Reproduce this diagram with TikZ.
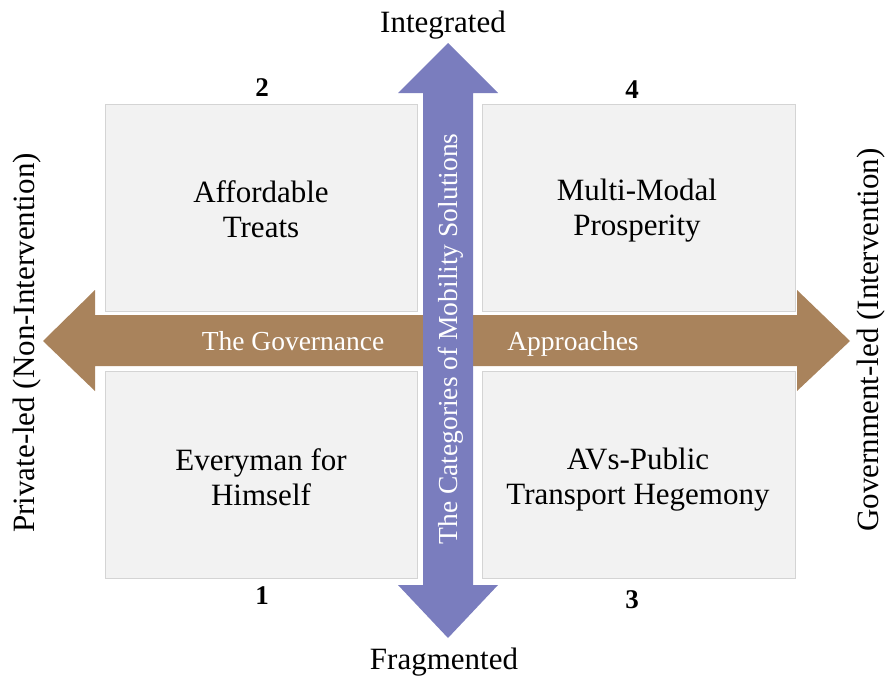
\documentclass[tikz,border=0pt]{standalone}
\usepackage{fontspec}
\setmainfont{Liberation Serif}
\definecolor{brownarrow}{HTML}{A9835C}
\definecolor{purplearrow}{HTML}{7A7DBE}
\definecolor{boxfill}{HTML}{F2F2F2}
\definecolor{boxline}{HTML}{D4D4D4}
\tikzset{
  quad/.style={fill=boxfill, draw=boxline, line width=1pt},
  quadtext/.style={align=center, font=\fontsize{31}{35}\selectfont, text=black},
  axislabel/.style={font=\fontsize{31}{35}\selectfont, text=black},
  numlabel/.style={font=\fontsize{27}{30}\selectfont\bfseries, text=black},
  arrowtext/.style={font=\fontsize{27.5}{32}\selectfont, text=white, text height=19pt, text depth=6pt}
}
\begin{document}
\begin{tikzpicture}[x=1pt,y=-1pt]
\useasboundingbox (0,0) rectangle (887,680);
% quadrant boxes
\draw[quad] (105,104) rectangle (417,311);
\draw[quad] (482,104) rectangle (795,311);
\draw[quad] (105,371) rectangle (417,578);
\draw[quad] (482,371) rectangle (795,578);
% horizontal arrow
\fill[brownarrow] (43,341) -- (95,290) -- (95,315) -- (797,315) -- (797,290) -- (850,341) -- (797,391) -- (797,366) -- (95,366) -- (95,391) -- cycle;
% vertical arrow
\fill[purplearrow] (448,43) -- (498,93) -- (473,93) -- (473,585) -- (498,585) -- (448,638) -- (398,585) -- (423,585) -- (423,93) -- (398,93) -- cycle;
% texts
\node[quadtext] (q2) at (261,209) {Affordable\\Treats};
\node[quadtext] (q4) at (637,211) {Multi-Modal\\Prosperity};
\node[quadtext] (q1) at (261,477) {Everyman for\\Himself};
\node[quadtext] (q3) at (638,480) {AVs-Public\\Transport Hegemony};
\node[numlabel] (n2) at (262,88) {2};
\node[numlabel] (n4) at (632,90) {4};
\node[numlabel] (n1) at (262,596) {1};
\node[numlabel] (n3) at (632,600) {3};
\node[axislabel] (top) at (443,25) {Integrated};
\node[axislabel] (bottom) at (444,662) {Fragmented};
\node[axislabel, rotate=90] (left) at (27,343) {Private-led (Non-Intervention)};
\node[axislabel, rotate=90] (right) at (871,340) {Government-led (Intervention)};
\node[arrowtext] (gov) at (293,344) {The Governance};
\node[arrowtext] (app) at (573,344) {Approaches};
\node[arrowtext, rotate=90] (cat) at (451,339) {The Categories of Mobility Solutions};
\end{tikzpicture}
\end{document}
